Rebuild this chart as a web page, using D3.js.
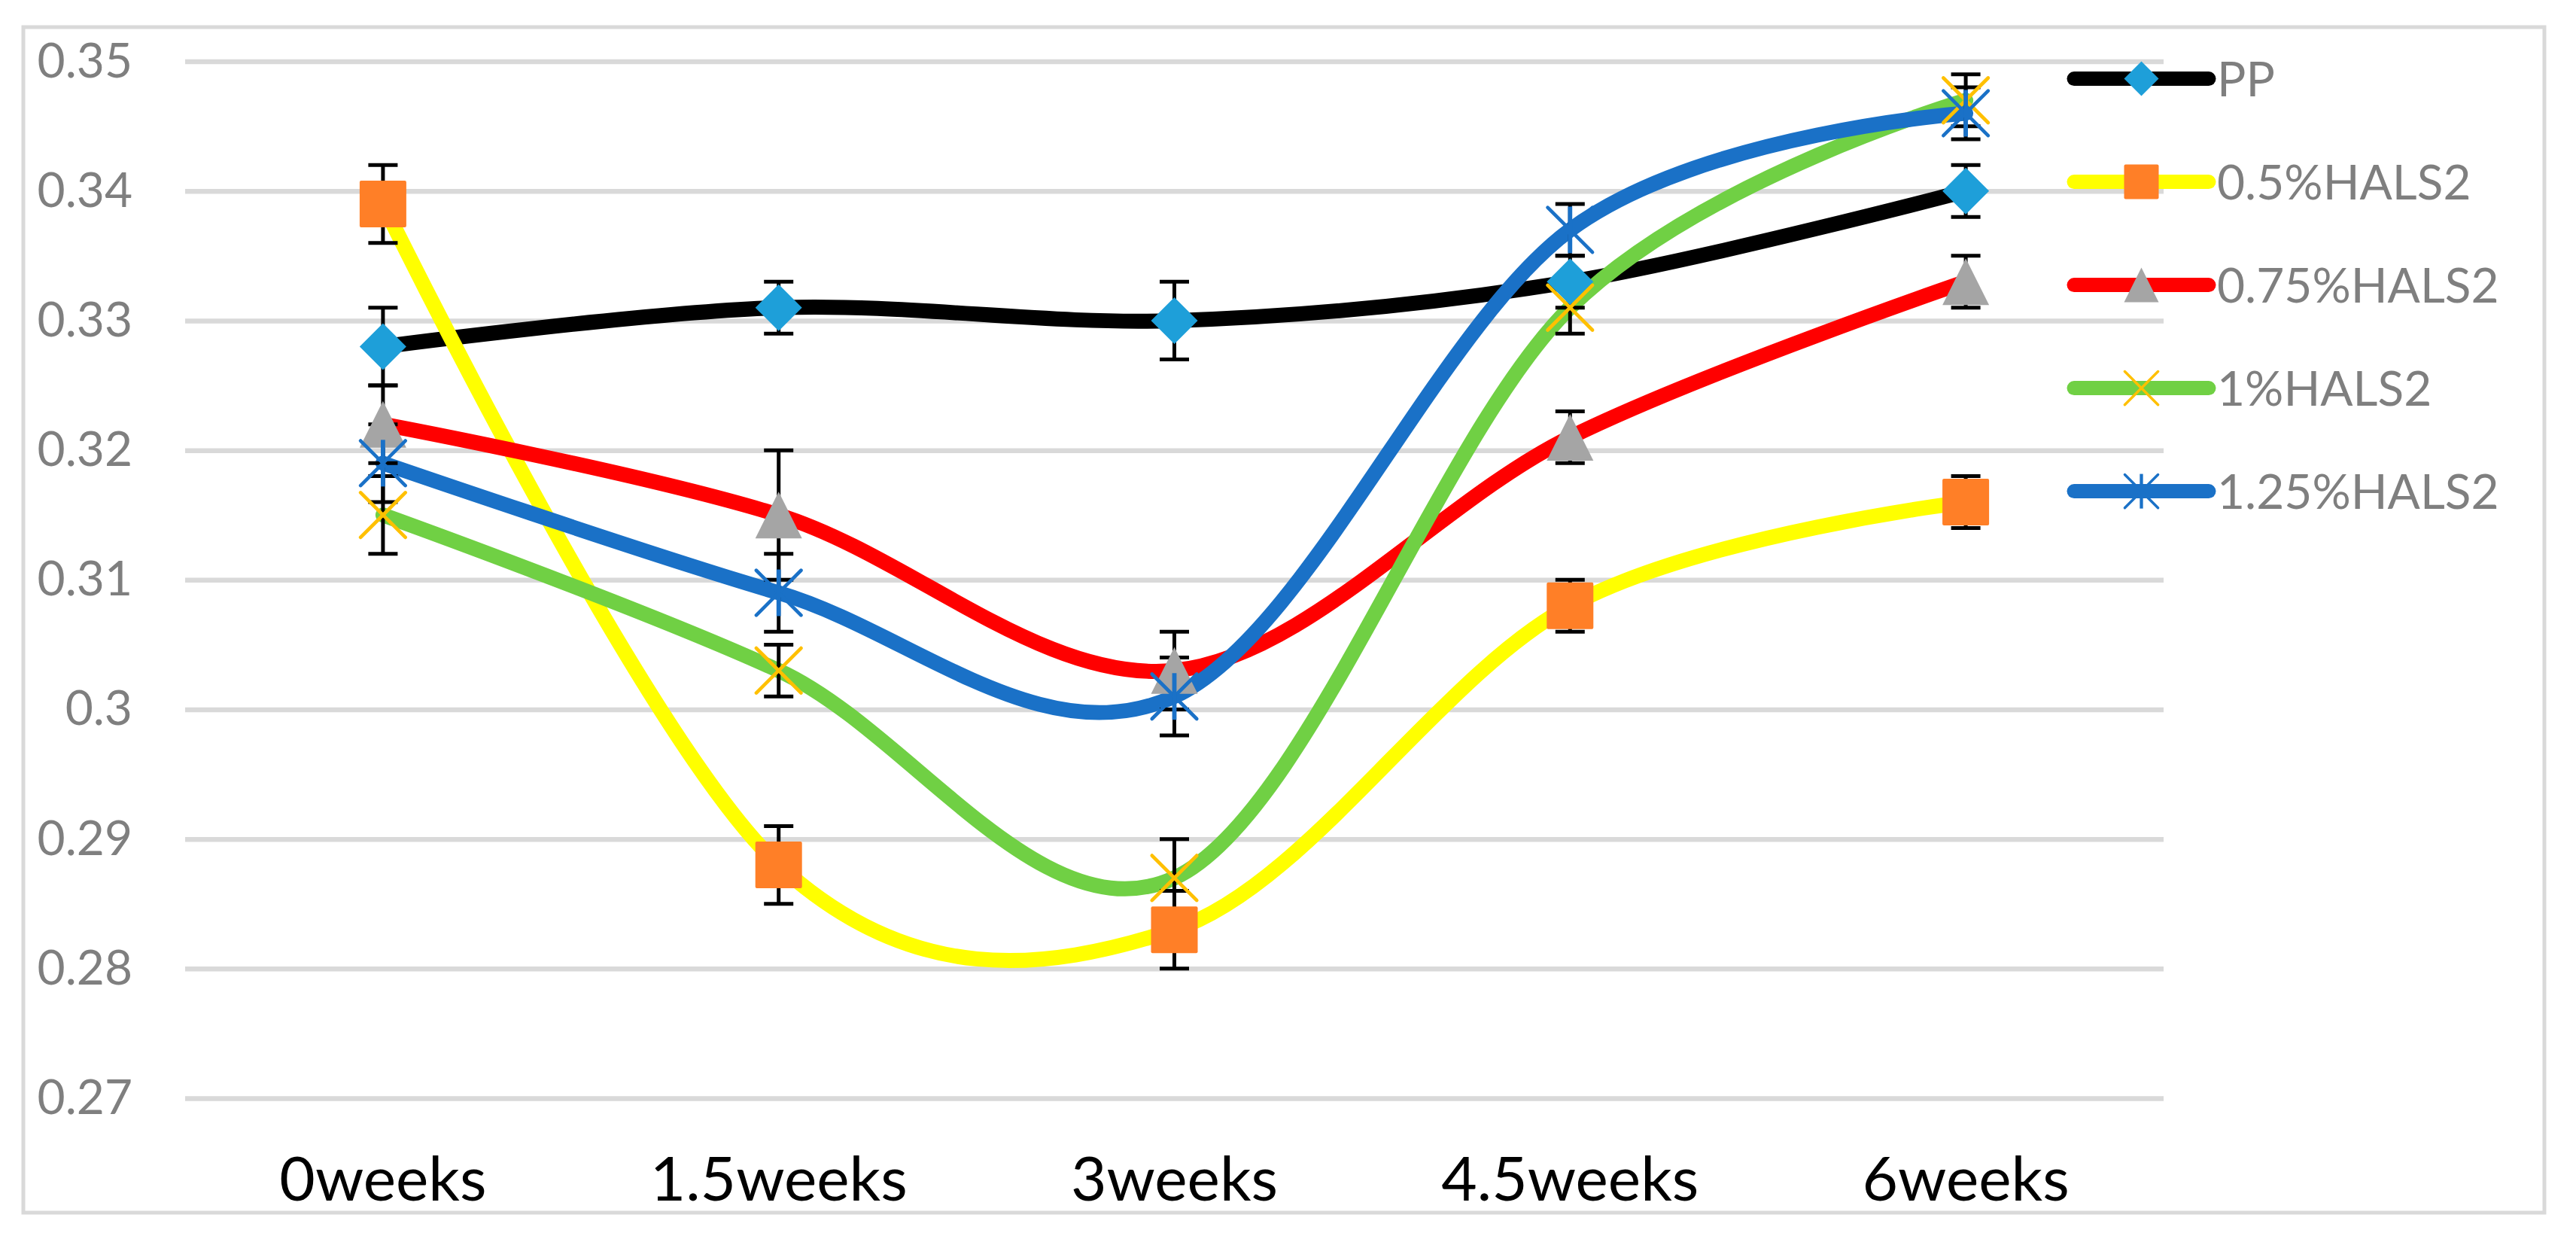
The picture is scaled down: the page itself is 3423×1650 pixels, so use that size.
<!DOCTYPE html>
<html>
<head>
<meta charset="utf-8">
<script src="https://cdn.jsdelivr.net/npm/d3@7"></script>
<style>
  body { margin: 0; background: #fff; }
  svg { display: block; font-family: Lato, "Open Sans", sans-serif; }
</style>
</head>
<body>
<div id="chart"></div>
<script>
// Data
const categories = ['0weeks', '1.5weeks', '3weeks', '4.5weeks', '6weeks']
const seriesNames = ['PP', '0.5%HALS2', '0.75%HALS2', '1%HALS2', '1.25%HALS2']

const ppValues = [0.328, 0.331, 0.330, 0.333, 0.340]
const ppErrors = [0.003, 0.002, 0.003, 0.002, 0.002]
const hals05Values = [0.339, 0.288, 0.283, 0.308, 0.316]
const hals05Errors = [0.003, 0.003, 0.003, 0.002, 0.002]
const hals075Values = [0.322, 0.315, 0.303, 0.321, 0.333]
const hals075Errors = [0.003, 0.005, 0.003, 0.002, 0.002]
const hals1Values = [0.315, 0.303, 0.287, 0.331, 0.347]
const hals1Errors = [0.003, 0.002, 0.003, 0.002, 0.002]
const hals125Values = [0.319, 0.309, 0.301, 0.337, 0.346]
const hals125Errors = [0.003, 0.003, 0.003, 0.002, 0.002]

const yTicks = [0.27, 0.28, 0.29, 0.30, 0.31, 0.32, 0.33, 0.34, 0.35]
const yTickLabels = ['0.27', '0.28', '0.29', '0.3', '0.31', '0.32', '0.33', '0.34', '0.35']

function draw() {
    // series table built from the arrays above, with styles
    const series = [
        { name: seriesNames[0], values: ppValues, errors: ppErrors, line: '#000000', marker: 'diamond', fill: '#1e9fd9' },
        { name: seriesNames[1], values: hals05Values, errors: hals05Errors, line: '#ffff00', marker: 'square', fill: '#ff7f27' },
        { name: seriesNames[2], values: hals075Values, errors: hals075Errors, line: '#ff0000', marker: 'triangle', fill: '#a5a5a5' },
        { name: seriesNames[3], values: hals1Values, errors: hals1Errors, line: '#70d044', marker: 'x', fill: '#ffc000' },
        { name: seriesNames[4], values: hals125Values, errors: hals125Errors, line: '#1a71c7', marker: 'star', fill: '#1a71c7' }
    ]

    // Dimensions
    let dimensions = {
        width: 3423,
        height: 1650,
        plot: { left: 246, right: 2875, top: 81.6, bottom: 1459 }
    }

    // Scales
    const xScale = d3.scaleBand()
        .domain(categories)
        .range([dimensions.plot.left, dimensions.plot.right])
    const xPos = (i) => xScale(categories[i]) + xScale.bandwidth() / 2

    const yScale = d3.scaleLinear()
        .domain([0.27, 0.35])
        .range([dimensions.plot.bottom, dimensions.plot.top])

    const svg = d3.select('#chart')
        .append('svg')
        .attr('width', dimensions.width)
        .attr('height', dimensions.height)

    // chart frame
    svg.append('rect')
        .attr('x', 31).attr('y', 36)
        .attr('width', 3350).attr('height', 1575)
        .attr('fill', '#fff')
        .attr('stroke', '#d9d9d9')
        .attr('stroke-width', 5)

    // Y axis with gridlines
    const yAxis = d3.axisLeft(yScale)
        .tickValues(yTicks)
        .tickFormat((d, i) => yTickLabels[i])
        .tickSize(-(dimensions.plot.right - dimensions.plot.left))
        .tickPadding(70)

    const yAxisGroup = svg.append('g')
        .attr('transform', `translate(${dimensions.plot.left}, 0)`)
        .call(yAxis)
    yAxisGroup.select('.domain').remove()
    yAxisGroup.selectAll('line')
        .attr('stroke', '#d9d9d9')
        .attr('stroke-width', 6.5)
    yAxisGroup.selectAll('text')
        .attr('fill', '#7f7f7f')
        .style('font-size', '64px')
        .style('font-family', 'Lato, sans-serif')

    // X axis labels
    const xAxis = d3.axisBottom(xScale).tickSize(0)
    const xAxisGroup = svg.append('g')
        .attr('transform', 'translate(0, 1595)')
        .call(xAxis)
    xAxisGroup.select('.domain').remove()
    xAxisGroup.selectAll('text')
        .attr('y', 0)
        .attr('dy', 0)
        .attr('fill', '#000')
        .style('font-size', '82px')
        .style('font-family', 'Lato, sans-serif')

    // Lines
    const lineGen = d3.line()
        .x((d, i) => xPos(i))
        .y(d => yScale(d))
        .curve(d3.curveCardinal.tension(0))

    svg.append('g').selectAll('path')
        .data(series)
        .join('path')
        .attr('d', d => lineGen(d.values))
        .attr('fill', 'none')
        .attr('stroke', d => d.line)
        .attr('stroke-width', 20)
        .attr('stroke-linecap', 'round')
        .attr('stroke-linejoin', 'round')

    // Error bars
    const capHalf = 19.5
    const errGroup = svg.append('g')
        .attr('stroke', '#000')
        .attr('stroke-width', 5)
    series.forEach(s => {
        s.values.forEach((v, i) => {
            const x = xPos(i)
            const yHi = yScale(v + s.errors[i])
            const yLo = yScale(v - s.errors[i])
            errGroup.append('line').attr('x1', x).attr('x2', x).attr('y1', yHi).attr('y2', yLo)
            errGroup.append('line').attr('x1', x - capHalf).attr('x2', x + capHalf).attr('y1', yHi).attr('y2', yHi)
            errGroup.append('line').attr('x1', x - capHalf).attr('x2', x + capHalf).attr('y1', yLo).attr('y2', yLo)
        })
    })

    // marker drawing
    function drawMarker(g, type, color, x, y, size) {
        const h = size / 2
        if (type === 'diamond') {
            g.append('path')
                .attr('d', `M${x},${y - h}L${x + h},${y}L${x},${y + h}L${x - h},${y}Z`)
                .attr('fill', color)
        } else if (type === 'square') {
            g.append('rect')
                .attr('x', x - h).attr('y', y - h)
                .attr('width', size).attr('height', size)
                .attr('rx', 2)
                .attr('fill', color)
        } else if (type === 'triangle') {
            g.append('path')
                .attr('d', `M${x},${y - h}L${x + h},${y + h}L${x - h},${y + h}Z`)
                .attr('fill', color)
        } else if (type === 'x' || type === 'star') {
            const k = h * 0.96
            const sw = size * 0.075
            g.append('path')
                .attr('d', `M${x - k},${y - k}L${x + k},${y + k}M${x + k},${y - k}L${x - k},${y + k}`)
                .attr('stroke', color)
                .attr('stroke-width', sw)
                .attr('stroke-linecap', 'round')
                .attr('fill', 'none')
            if (type === 'star') {
                g.append('path')
                    .attr('d', `M${x},${y - h}L${x},${y + h}`)
                    .attr('stroke', color)
                    .attr('stroke-width', sw * 1.25)
                    .attr('fill', 'none')
            }
        }
    }

    const markerGroup = svg.append('g')
    series.forEach(s => {
        s.values.forEach((v, i) => {
            drawMarker(markerGroup, s.marker, s.fill, xPos(i), yScale(v), 62)
        })
    })

    // Legend
    const legend = svg.append('g')
    const legendX1 = 2756, legendX2 = 2935, legendTop = 104.6, legendStep = 137
    series.forEach((s, i) => {
        const y = legendTop + i * legendStep
        legend.append('line')
            .attr('x1', legendX1).attr('x2', legendX2)
            .attr('y1', y).attr('y2', y)
            .attr('stroke', s.line)
            .attr('stroke-width', 19)
            .attr('stroke-linecap', 'round')
        drawMarker(legend, s.marker, s.fill, (legendX1 + legendX2) / 2, y, 46)
        legend.append('text')
            .text(s.name)
            .attr('x', 2946)
            .attr('y', y + 23)
            .attr('fill', '#7f7f7f')
            .style('font-size', '64px')
    })
}
draw()
</script>
</body>
</html>
